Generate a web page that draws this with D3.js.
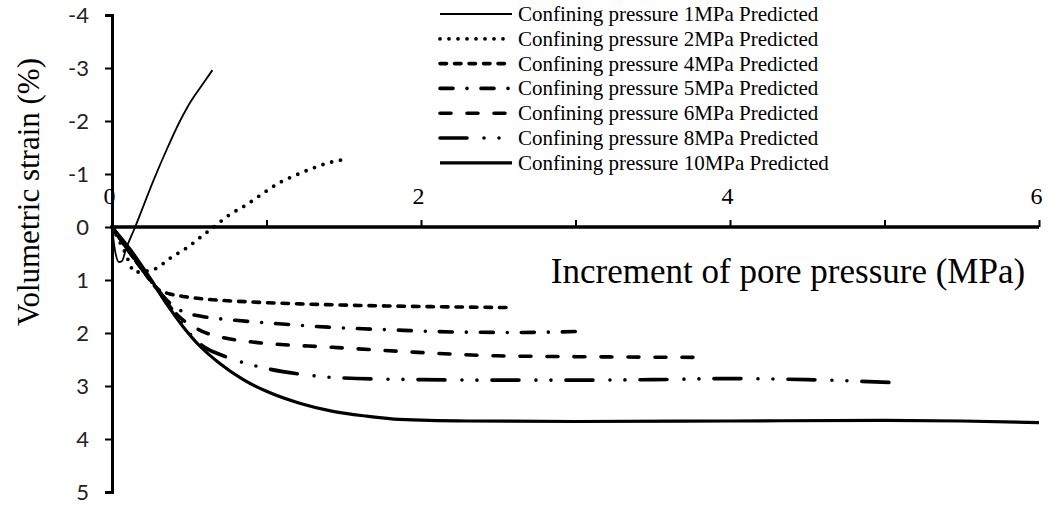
<!DOCTYPE html>
<html>
<head>
<meta charset="utf-8">
<script src="https://cdn.jsdelivr.net/npm/d3@7"></script>
<style>
  html, body { margin: 0; padding: 0; background: #fff; }
  svg { display: block; }
</style>
</head>
<body>
<svg id="chart" width="1047" height="506"></svg>
<script>
// ---- data ----
const seriesNames = [
  "Confining pressure 1MPa Predicted",
  "Confining pressure 2MPa Predicted",
  "Confining pressure 4MPa Predicted",
  "Confining pressure 5MPa Predicted",
  "Confining pressure 6MPa Predicted",
  "Confining pressure 8MPa Predicted",
  "Confining pressure 10MPa Predicted"
];
// [increment of pore pressure (MPa), volumetric strain (%)]
const cp1 = [[0,0],[0.02,0.45],[0.045,0.66],[0.065,0.64],[0.09,0.42],[0.15,0],[0.27,-0.89],[0.36,-1.5],[0.44,-2.0],[0.49,-2.27],[0.54,-2.5],[0.6,-2.75],[0.65,-2.96]];
const cp2 = [[0,0],[0.08,0.45],[0.15,0.85],[0.27,0.8],[0.38,0.58],[0.49,0.38],[0.6,0.13],[0.65,0.02],[0.76,-0.23],[0.87,-0.42],[0.98,-0.64],[1.08,-0.83],[1.19,-0.98],[1.3,-1.11],[1.4,-1.21],[1.52,-1.28]];
const cp4 = [[0,0],[0.1,0.42],[0.2,0.82],[0.3,1.18],[0.37,1.26],[0.46,1.31],[0.6,1.36],[0.87,1.41],[1.22,1.45],[1.6,1.48],[2.0,1.5],[2.56,1.52]];
const cp5 = [[0,0],[0.1,0.42],[0.2,0.82],[0.3,1.2],[0.38,1.45],[0.46,1.6],[0.57,1.68],[0.8,1.76],[1.1,1.83],[1.4,1.89],[1.8,1.94],[2.2,1.98],[2.6,1.99],[3.04,1.97]];
const cp6 = [[0,0],[0.1,0.42],[0.2,0.82],[0.3,1.2],[0.42,1.65],[0.57,1.95],[0.74,2.1],[0.91,2.17],[1.43,2.27],[1.95,2.36],[2.49,2.43],[3.16,2.45],[3.85,2.46]];
const cp8 = [[0,0],[0.1,0.42],[0.2,0.82],[0.3,1.2],[0.4,1.6],[0.5,2.0],[0.6,2.27],[0.72,2.43],[0.9,2.6],[1.0,2.67],[1.2,2.77],[1.5,2.85],[2.0,2.88],[2.5,2.89],[3.0,2.89],[3.5,2.88],[4.0,2.86],[4.5,2.88],[5.1,2.94]];
const cp10 = [[0,0],[0.12,0.43],[0.25,0.98],[0.36,1.48],[0.46,1.88],[0.57,2.25],[0.7,2.58],[0.85,2.88],[1.0,3.1],[1.22,3.33],[1.43,3.48],[1.65,3.57],[1.86,3.63],[2.3,3.66],[3.0,3.67],[4.0,3.66],[5.0,3.65],[5.5,3.66],[6.0,3.69]];
const xTicks = [0,1,2,3,4,5,6];
const xTickLabels = [0,2,4,6];
const yTicks = [-4,-3,-2,-1,0,1,2,3,4,5];
const xTitle = "Increment of pore pressure (MPa)";
const yTitle = "Volumetric strain (%)";

// ---- styles ----
const styles = [
  { w: 1.8, dash: null, cap: "butt" },
  { w: 3.8, dash: "0 9", cap: "round" },
  { w: 3.6, dash: "6.5 8", cap: "round" },
  { w: 3.6, dash: "13 14 0 14", cap: "round" },
  { w: 3.6, dash: "11 16", cap: "round" },
  { w: 3.6, dash: "27 17 0 15 0 15", cap: "round" },
  { w: 3.2, dash: null, cap: "butt" }
];
const allSeries = [cp1, cp2, cp4, cp5, cp6, cp8, cp10];

const svg = d3.select("#chart");
const x = d3.scaleLinear().domain([0, 6]).range([112, 1039]);
const y = d3.scaleLinear().domain([-4, 5]).range([15, 492]);

// curves
const line = d3.line().x(d => x(d[0])).y(d => y(d[1])).curve(d3.curveMonotoneX);
const gLines = svg.append("g");
allSeries.forEach((s, i) => {
  gLines.append("path")
    .attr("d", line(s))
    .attr("fill", "none")
    .attr("stroke", "#000")
    .attr("stroke-width", styles[i].w)
    .attr("stroke-linecap", styles[i].cap)
    .attr("stroke-linejoin", "round")
    .attr("stroke-dasharray", styles[i].dash);
});

// y axis
const yAxis = d3.axisLeft(y).tickValues(yTicks).tickSize(7).tickPadding(16).tickFormat(d3.format("d"));
const gy = svg.append("g").attr("transform", `translate(${x(0)},0)`).call(yAxis);
gy.select(".domain").attr("stroke", "#000").attr("stroke-width", 3);
gy.selectAll(".tick line").attr("stroke", "#000").attr("stroke-width", 2);
gy.selectAll(".tick text")
  .attr("font-family", "Lato, 'Open Sans', sans-serif")
  .attr("font-size", 22)
  .attr("fill", "#222")
  .text(d => d < 0 ? "-" + Math.abs(d) : d);

// x axis (drawn through y=0, ticks pointing up)
const xAxis = d3.axisTop(x).tickValues(xTicks).tickSize(7).tickPadding(16)
  .tickFormat(d => xTickLabels.includes(d) ? d : "");
const gx = svg.append("g").attr("transform", `translate(0,${y(0)})`).call(xAxis);
gx.select(".domain").attr("stroke", "#000").attr("stroke-width", 3.5).attr("d", `M${x(0)},0H${x(6)}`);
gx.selectAll(".tick line").attr("stroke", "#000").attr("stroke-width", 2);
gx.selectAll(".tick text")
  .attr("font-family", "'Liberation Serif', 'Times New Roman', serif")
  .attr("font-size", 24)
  .attr("fill", "#000")
  .attr("dx", -3);

// titles
svg.append("text")
  .attr("x", 788).attr("y", 283)
  .attr("text-anchor", "middle")
  .attr("font-family", "'Liberation Serif', 'Times New Roman', serif")
  .attr("font-size", 35)
  .text(xTitle);
svg.append("text")
  .attr("transform", `translate(39,192) rotate(-90)`)
  .attr("text-anchor", "middle")
  .attr("font-family", "'Liberation Serif', 'Times New Roman', serif")
  .attr("font-size", 31)
  .text(yTitle);

// legend
const lg = svg.append("g");
seriesNames.forEach((name, i) => {
  const cy = 14 + i * 24.8;
  lg.append("line")
    .attr("x1", 440).attr("x2", 512).attr("y1", cy).attr("y2", cy)
    .attr("stroke", "#000")
    .attr("stroke-width", styles[i].w)
    .attr("stroke-linecap", styles[i].cap)
    .attr("stroke-dasharray", styles[i].dash);
  lg.append("text")
    .attr("x", 518).attr("y", cy + 7)
    .attr("font-family", "'Liberation Serif', 'Times New Roman', serif")
    .attr("font-size", 21)
    .text(name);
});
</script>
</body>
</html>
